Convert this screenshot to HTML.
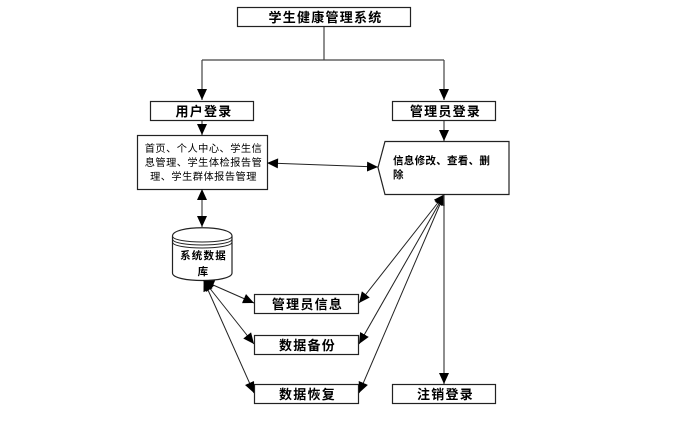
<!DOCTYPE html>
<html><head><meta charset="utf-8">
<style>
html,body{margin:0;padding:0;background:#fff;width:680px;height:422px;overflow:hidden}
svg{display:block}
text{font-family:"Liberation Sans","Noto Sans CJK SC",sans-serif;fill:#000;text-anchor:middle}
.b{font-size:13px;font-weight:700;letter-spacing:1.25px}
.s{font-size:10.2px;letter-spacing:.5px}
.m{font-size:10.5px;font-weight:700;letter-spacing:.3px}
.c{letter-spacing:1.2px}
rect,.sh{fill:#fff;stroke:#222;stroke-width:1.2}
.l{stroke:#444;stroke-width:1.2;fill:none}
.t{stroke:#222;stroke-width:1;fill:none}
</style></head><body>
<svg width="680" height="422" viewBox="0 0 680 422" xmlns="http://www.w3.org/2000/svg">
<defs>
<marker id="a" markerUnits="userSpaceOnUse" markerWidth="12" markerHeight="10" refX="11" refY="5" orient="auto"><path d="M0 0L11 5L0 10z" fill="#000"/></marker>
<marker id="as" markerUnits="userSpaceOnUse" markerWidth="12" markerHeight="10" refX="1" refY="5" orient="auto"><path d="M11 0L0 5L11 10z" fill="#000"/></marker>
</defs>

<!-- top connectors -->
<path class="l" d="M324 26V60M202 60H444"/>
<path class="l" d="M202 60V100" marker-end="url(#a)"/>
<path class="l" d="M444 60V100" marker-end="url(#a)"/>
<path class="l" d="M202 120V135" marker-end="url(#a)"/>
<path class="l" d="M444 120V141" marker-end="url(#a)"/>

<!-- boxes -->
<rect x="237.500" y="7.500" width="173" height="19"/>
<text class="b" x="325.500" y="22">学生健康管理系统</text>
<rect x="150.500" y="101.500" width="103" height="19"/>
<text class="b" x="204" y="116">用户登录</text>
<rect x="392.500" y="101.500" width="103" height="19"/>
<text class="b" x="445.500" y="116">管理员登录</text>

<rect x="137.500" y="135.500" width="130" height="54"/>
<text class="s" x="203.500" y="152">首页、个人中心、学生信</text>
<text class="s" x="203.500" y="166">息管理、学生体检报告管</text>
<text class="s" x="203.500" y="180">理、学生群体报告管理</text>

<path class="sh" d="M385 141.500H509V194.500H385L378 167.500z"/>
<text class="m" x="393" y="164" style="text-anchor:start">信息修改、查看、删</text>
<text class="m" x="393" y="178" style="text-anchor:start">除</text>

<!-- double arrows -->
<path class="t" d="M268 163L378 167" marker-start="url(#as)" marker-end="url(#a)"/>
<path class="t" d="M202 190V227" marker-start="url(#as)" marker-end="url(#a)"/>

<!-- cylinder -->
<path class="sh" d="M172.500 236C172.500 225 232 225 232 236V273C232 283 172.500 283 172.500 273z"/>
<path class="t" d="M172.500 236C172.500 244 232 244 232 236M172.500 239C172.500 247 232 247 232 239M172.500 242C172.500 250 232 250 232 242"/>
<text class="m c" x="203.500" y="259">系统数据</text>
<text class="m" x="203" y="275">库</text>

<!-- lower boxes -->
<rect x="254.500" y="294.500" width="104" height="19"/>
<text class="b" x="307.500" y="309">管理员信息</text>
<rect x="254.500" y="335.500" width="104" height="19"/>
<text class="b" x="307.500" y="350">数据备份</text>
<rect x="254.500" y="384.500" width="104" height="19"/>
<text class="b" x="307.500" y="399">数据恢复</text>
<rect x="392.500" y="384.500" width="103" height="19"/>
<text class="b" x="445.500" y="399">注销登录</text>

<!-- fan left -->
<path class="t" d="M204 281L254 303" marker-start="url(#as)" marker-end="url(#a)"/>
<path class="t" d="M204 281L254 344" marker-start="url(#as)" marker-end="url(#a)"/>
<path class="t" d="M204 281L254 393" marker-start="url(#as)" marker-end="url(#a)"/>
<!-- fan right -->
<path class="t" d="M444 195L359 303" marker-start="url(#as)" marker-end="url(#a)"/>
<path class="t" d="M444 195L359 344" marker-start="url(#as)" marker-end="url(#a)"/>
<path class="t" d="M444 195L359 393" marker-start="url(#as)" marker-end="url(#a)"/>
<path class="l" d="M444 195V384" marker-end="url(#a)"/>
</svg>
</body></html>
